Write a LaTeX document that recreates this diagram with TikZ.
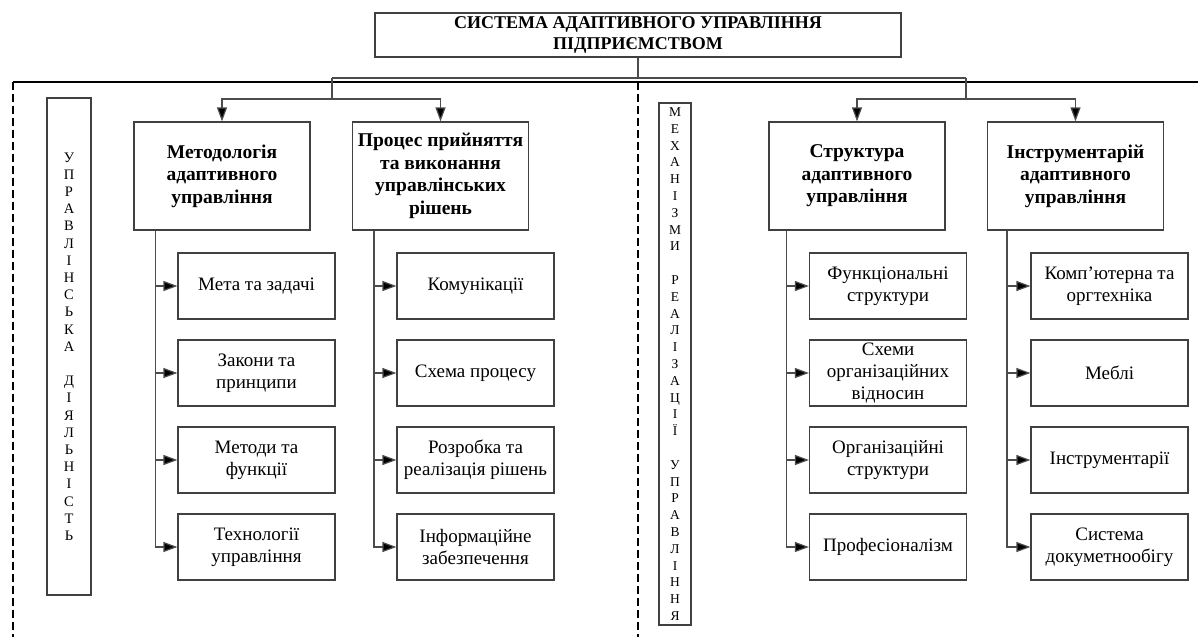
\documentclass[tikz,border=0pt]{standalone}
\usepackage{fontspec}
\setmainfont{Liberation Serif}
\usetikzlibrary{positioning,arrows.meta,calc}
\tikzset{
	titlebox/.style={draw=black!75, line width=1.2pt, minimum width=526pt, minimum height=44pt, inner sep=0pt, align=center, font=\bfseries\fontsize{18}{21.5}\selectfont},
	mainbox/.style={draw=black!75, line width=1.2pt, minimum width=176pt, minimum height=108pt, inner sep=0pt, align=center, font=\bfseries\fontsize{19.5}{22.5}\selectfont},
	subbox/.style={draw=black!75, line width=1.2pt, minimum width=157pt, minimum height=66pt, inner sep=0pt, align=center, font=\fontsize{19}{22}\selectfont},
	vbox/.style={draw=black!75, line width=1.2pt, inner sep=0pt, align=center},
	wire/.style={draw=black!70, line width=1.2pt},
	link/.style={wire, -{Triangle[length=14pt,width=10pt,fill=black]}},
	frame/.style={black, line width=1.8pt, dash pattern=on 8pt off 4pt},
}
\begin{document}
\begin{tikzpicture}[x=1pt, y=-1pt, node distance=87pt]
	\useasboundingbox (0,0) rectangle (1198,637);
	% frame
	\draw[black, line width=1.2pt] (13,82) -- (1198,82);
	\draw[frame] (13,82) -- (13,637);
	\draw[frame] (638,82) -- (638,637);
	% title
	\node(title)[titlebox] at (638,35){СИСТЕМА АДАПТИВНОГО УПРАВЛІННЯ\\ПІДПРИЄМСТВОМ};
	% side labels
	\node(upr)[vbox, minimum width=44pt, minimum height=497pt, font=\fontsize{14.5}{17.2}\selectfont] at (69,346.5){У\\П\\Р\\А\\В\\Л\\І\\Н\\С\\Ь\\К\\А\\[17.2pt]Д\\І\\Я\\Л\\Ь\\Н\\І\\С\\Т\\Ь};
	\node(mech)[vbox, minimum width=32pt, minimum height=522pt, font=\fontsize{13.5}{16.8}\selectfont] at (675,364){М\\Е\\Х\\А\\Н\\І\\З\\М\\И\\[16.8pt]Р\\Е\\А\\Л\\І\\З\\А\\Ц\\І\\Ї\\[16.8pt]У\\П\\Р\\А\\В\\Л\\І\\Н\\Н\\Я};
	% main blocks
	\node(met)[mainbox] at (222,176){Методологія\\адаптивного\\управління};
	\node(proc)[mainbox, right of=met, node distance=218.5pt]{Процес прийняття\\та виконання\\управлінських\\рішень};
	\node(str)[mainbox] at (857,176){Структура\\адаптивного\\управління};
	\node(instr)[mainbox, right of=str, node distance=218.5pt]{Інструментарій\\адаптивного\\управління};
	% sub blocks
	\node(met1)[subbox] at (256.5,286){Мета та задачі};
	\node(met2)[subbox, below of=met1]{Закони та\\принципи};
	\node(met3)[subbox, below of=met2]{Методи та\\функції};
	\node(met4)[subbox, below of=met3]{Технології\\управління};
	\node(proc1)[subbox] at (475.5,286){Комунікації};
	\node(proc2)[subbox, below of=proc1]{Схема процесу};
	\node(proc3)[subbox, below of=proc2]{Розробка та\\реалізація рішень};
	\node(proc4)[subbox, below of=proc3]{Інформаційне\\забезпечення};
	\node(str1)[subbox] at (888,286){Функціональні\\структури};
	\node(str2)[subbox, below of=str1]{Схеми\\організаційних\\відносин};
	\node(str3)[subbox, below of=str2]{Організаційні\\структури};
	\node(str4)[subbox, below of=str3]{Професіоналізм};
	\node(instr1)[subbox] at (1109.5,286){Комп{\char"0027}ютерна та\\оргтехніка};
	\node(instr2)[subbox, below of=instr1]{Меблі};
	\node(instr3)[subbox, below of=instr2]{Інструментарії};
	\node(instr4)[subbox, below of=instr3]{Система\\докуметнообігу};
	% connectors
	\coordinate(jl) at (332,78);
	\coordinate(jr) at (966,78);
	\draw[wire] (title.south) |- (jl);
	\draw[wire] (title.south) |- (jr);
	\draw[wire] (jl) -- ++(0,21) coordinate(bl);
	\draw[wire] (jr) -- ++(0,21) coordinate(br);
	\draw[link] (bl) -| (met.north);
	\draw[link] (bl) -| (proc.north);
	\draw[link] (br) -| (str.north);
	\draw[link] (br) -| (instr.north);
	\foreach \m/\d in {met/22,proc/22,str/18,instr/20}
		\foreach \i in {1,...,4}
			\draw[link] ($(\m.south west)+(\d,0)$) |- (\m\i.west);
\end{tikzpicture}
\end{document}
